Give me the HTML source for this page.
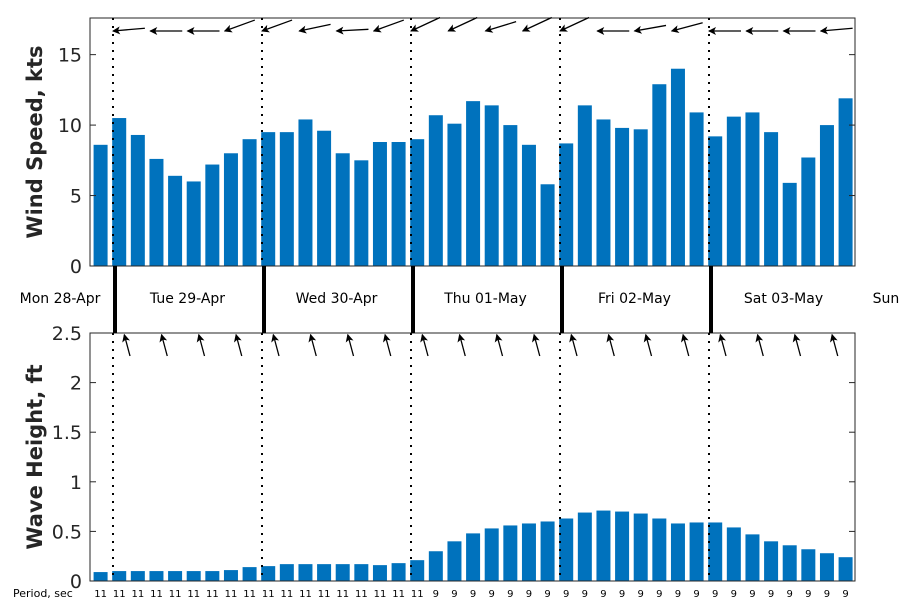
<!DOCTYPE html>
<html><head><meta charset="utf-8"><style>
body{margin:0;background:#fff}
svg{font-family:"DejaVu Sans","Liberation Sans",sans-serif}
</style></head><body>
<svg id="c" width="900" height="600" xmlns="http://www.w3.org/2000/svg">
<defs><marker id="ah" markerWidth="8" markerHeight="8" refX="7" refY="4" orient="auto" markerUnits="userSpaceOnUse"><path d="M0,0 L8,4 L0,8 L2,4 z" fill="#000"/></marker></defs>
</svg>
<script>
const windSpeed=[8.6,10.5,9.3,7.6,6.4,6.0,7.2,8.0,9.0,9.5,9.5,10.4,9.6,8.0,7.5,8.8,8.8,9.0,10.7,10.1,11.7,11.4,10.0,8.6,5.8,8.7,11.4,10.4,9.8,9.7,12.9,14.0,10.9,9.2,10.6,10.9,9.5,5.9,7.7,10.0,11.9];
const waveHeight=[0.09,0.1,0.1,0.1,0.1,0.1,0.1,0.11,0.14,0.15,0.17,0.17,0.17,0.17,0.17,0.16,0.18,0.21,0.3,0.4,0.48,0.53,0.56,0.58,0.6,0.63,0.69,0.71,0.7,0.68,0.63,0.58,0.59,0.59,0.54,0.47,0.4,0.36,0.32,0.28,0.24];
const periods=[11,11,11,11,11,11,11,11,11,11,11,11,11,11,11,11,11,11,9,9,9,9,9,9,9,9,9,9,9,9,9,9,9,9,9,9,9,9,9,9,9];
const windDir=[185,180,180,200,200,192,183,200,205,205,197,205,205,180,190,195,180,180,180,185];
const waveDir=[105,105,105,105,105,105,105,105,105,105,105,105,105,105,105,105,105,105,105,105];
const dayLabels=["Mon 28-Apr","Tue 29-Apr","Wed 30-Apr","Thu 01-May","Fri 02-May","Sat 03-May","Sun"];
const windTicks=[0,5,10,15];
const waveTicks=[0,0.5,1,1.5,2,2.5];
const C=document.getElementById('c');const NS="http://www.w3.org/2000/svg";
function mk(t,a,txt){const e=document.createElementNS(NS,t);for(const k in a)e.setAttribute(k,a[k]);if(txt!==undefined)e.textContent=txt;C.appendChild(e);return e;}
const X0=90,X1=855,PXH=149/24,T0=113; // T0 = Tue 00:00
const xt=h=>T0+h*PXH;
const barHour=i=>-2+3*i;
const TOP={y0:18,y1:266,max:17.6},BOT={y0:333,y1:581,max:2.5};
const yw=v=>TOP.y1-v/TOP.max*(TOP.y1-TOP.y0);
const yv=v=>BOT.y1-v/BOT.max*(BOT.y1-BOT.y0);
const bw=14;
windSpeed.forEach((v,i)=>{const e=mk('rect',{x:xt(barHour(i))-bw/2,y:yw(v),width:bw,height:TOP.y1-yw(v),fill:'#0072bd'});

});
waveHeight.forEach((v,i)=>{const e=mk('rect',{x:xt(barHour(i))-bw/2,y:yv(v),width:bw,height:BOT.y1-yv(v),fill:'#0072bd'});

});
// axes boxes
[[TOP,'wind-axes'],[BOT,'wave-axes']].forEach(([P,n])=>{const e=mk('rect',{x:X0,y:P.y0,width:X1-X0,height:P.y1-P.y0,fill:'none',stroke:'#262626','stroke-width':1});

});
windTicks.forEach(t=>{const y=yw(t);mk('line',{x1:X0,x2:X0+6,y1:y,y2:y,stroke:'#262626'});mk('line',{x1:X1,x2:X1-6,y1:y,y2:y,stroke:'#262626'});
const e=mk('text',{x:X0-8,y:y+7,'text-anchor':'end','font-size':19,fill:'#262626'},String(t));

});
waveTicks.forEach(t=>{const y=yv(t);mk('line',{x1:X0,x2:X0+6,y1:y,y2:y,stroke:'#262626'});mk('line',{x1:X1,x2:X1-6,y1:y,y2:y,stroke:'#262626'});
const e=mk('text',{x:X0-8,y:y+7,'text-anchor':'end','font-size':19,fill:'#262626'},String(t));

});
// day lines
for(let d=0;d<5;d++){const x=xt(24*d);
mk('line',{x1:x,x2:x,y1:TOP.y0,y2:TOP.y1,stroke:'#000','stroke-width':2,'stroke-dasharray':'2,6'});
mk('line',{x1:x,x2:x,y1:BOT.y0,y2:BOT.y1,stroke:'#000','stroke-width':2,'stroke-dasharray':'2,6'});
mk('line',{x1:x+2,x2:x+2,y1:TOP.y1,y2:BOT.y0,stroke:'#000','stroke-width':4});}
dayLabels.forEach((l,d)=>{let x=xt(24*(d-1)+12);if(d===0)x=60;if(d===6)x=886;
const e=mk('text',{x:x,y:303,'text-anchor':'middle','font-size':14,fill:'#000'},l);

});
// wind arrows
windDir.forEach((a,i)=>{const hx=xt(6*i),hy=31,L=32,r=a*Math.PI/180;
const e=mk('line',{x1:hx-L*Math.cos(r),y1:hy+L*Math.sin(r),x2:hx,y2:hy,stroke:'#000','stroke-width':1.3,'marker-end':'url(#ah)'});

});
waveDir.forEach((a,i)=>{const tx=xt(6*i)+17,ty=356,L=22,r=a*Math.PI/180;
const e=mk('line',{x1:tx,y1:ty,x2:tx+L*Math.cos(r),y2:ty-L*Math.sin(r),stroke:'#000','stroke-width':1.3,'marker-end':'url(#ah)'});

});
periods.forEach((p,i)=>{const e=mk('text',{x:xt(barHour(i)),y:597,'text-anchor':'middle','font-size':10,fill:'#000'},String(p));

});
let e=mk('text',{x:13,y:597,'font-size':11,fill:'#000'},'Period, sec');


e=mk('text',{x:0,y:0,transform:'translate(42,142) rotate(-90)','text-anchor':'middle','font-size':21,'font-weight':'bold',fill:'#262626'},'Wind Speed, kts');


e=mk('text',{x:0,y:0,transform:'translate(42,457) rotate(-90)','text-anchor':'middle','font-size':21,'font-weight':'bold',fill:'#262626'},'Wave Height, ft');


</script>
</body></html>
